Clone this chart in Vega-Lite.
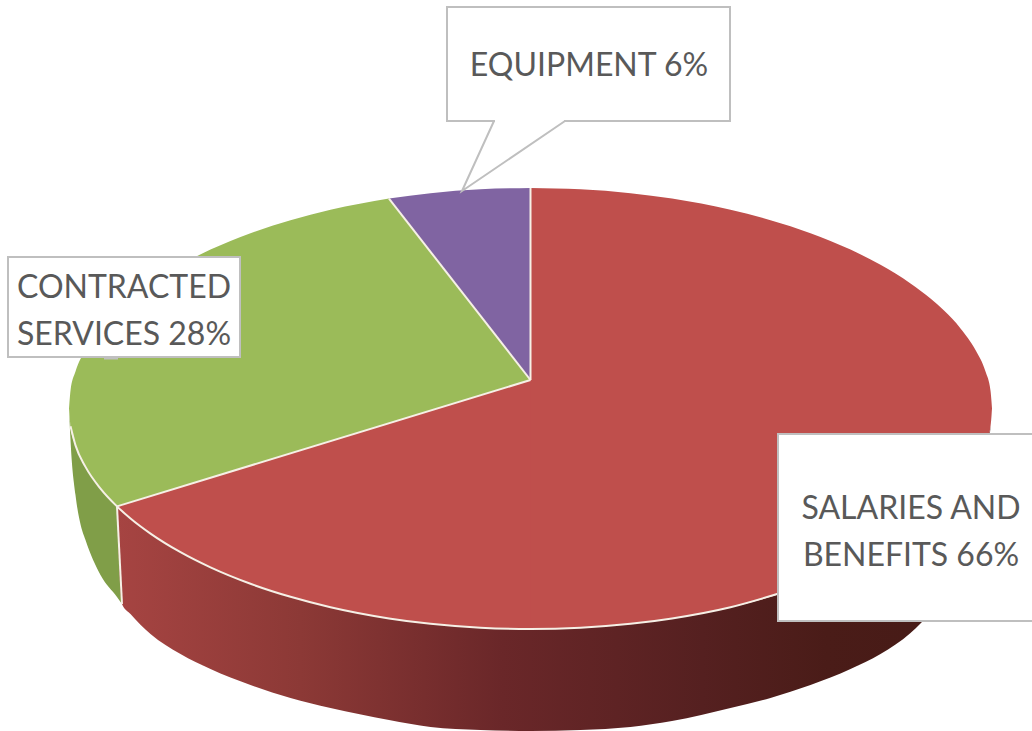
{
"$schema":"https://vega.github.io/schema/vega-lite/v6.json",
"width":1032,"height":731,"padding":0,
"autosize":{"type":"fit","contains":"padding"},
"background":"white",
"config":{"view":{"stroke":null}},
"datasets":{
"faces":[
{"slice":"EQUIPMENT","piece":"p","x":389,"y":198.6,"y2":198.6},{"slice":"EQUIPMENT","piece":"p","x":430.5,"y":193.2,"y2":251.8},{"slice":"EQUIPMENT","piece":"p","x":480.5,"y":189.3,"y2":315.9},{"slice":"EQUIPMENT","piece":"p","x":530.5,"y":188,"y2":380},
{"slice":"CONTRACTED SERVICES","piece":"g1","x":69,"y":408.5,"y2":408.5},{"slice":"CONTRACTED SERVICES","piece":"g1","x":70.5,"y":390.7,"y2":426.3},{"slice":"CONTRACTED SERVICES","piece":"g1","x":75.5,"y":371.6,"y2":445.4},{"slice":"CONTRACTED SERVICES","piece":"g1","x":85.5,"y":350.1,"y2":466.9},{"slice":"CONTRACTED SERVICES","piece":"g1","x":100.5,"y":328.4,"y2":488.6},{"slice":"CONTRACTED SERVICES","piece":"g1","x":117,"y":310.6,"y2":506.4},
{"slice":"CONTRACTED SERVICES","piece":"g2","x":117,"y":310.6,"y2":506.4},{"slice":"CONTRACTED SERVICES","piece":"g2","x":130.5,"y":298.5,"y2":502.3},{"slice":"CONTRACTED SERVICES","piece":"g2","x":150.5,"y":283.4,"y2":496.2},{"slice":"CONTRACTED SERVICES","piece":"g2","x":180.5,"y":264.8,"y2":487},{"slice":"CONTRACTED SERVICES","piece":"g2","x":210.5,"y":249.6,"y2":477.8},{"slice":"CONTRACTED SERVICES","piece":"g2","x":250.5,"y":233.2,"y2":465.6},{"slice":"CONTRACTED SERVICES","piece":"g2","x":290.5,"y":220.2,"y2":453.4},{"slice":"CONTRACTED SERVICES","piece":"g2","x":330.5,"y":209.8,"y2":441.1},{"slice":"CONTRACTED SERVICES","piece":"g2","x":389,"y":198.6,"y2":423.3},
{"slice":"CONTRACTED SERVICES","piece":"g3","x":389,"y":198.6,"y2":423.3},{"slice":"CONTRACTED SERVICES","piece":"g3","x":430.5,"y":251.8,"y2":410.6},{"slice":"CONTRACTED SERVICES","piece":"g3","x":480.5,"y":315.9,"y2":395.3},{"slice":"CONTRACTED SERVICES","piece":"g3","x":530.5,"y":380,"y2":380},
{"slice":"SALARIES AND BENEFITS","piece":"r1","x":117,"y":506.4,"y2":506.4},{"slice":"SALARIES AND BENEFITS","piece":"r1","x":130.5,"y":502.3,"y2":518.5},{"slice":"SALARIES AND BENEFITS","piece":"r1","x":150.5,"y":496.2,"y2":533.6},{"slice":"SALARIES AND BENEFITS","piece":"r1","x":180.5,"y":487,"y2":552.2},{"slice":"SALARIES AND BENEFITS","piece":"r1","x":210.5,"y":477.8,"y2":567.4},{"slice":"SALARIES AND BENEFITS","piece":"r1","x":250.5,"y":465.6,"y2":583.8},{"slice":"SALARIES AND BENEFITS","piece":"r1","x":290.5,"y":453.4,"y2":596.8},{"slice":"SALARIES AND BENEFITS","piece":"r1","x":330.5,"y":441.1,"y2":607.2},{"slice":"SALARIES AND BENEFITS","piece":"r1","x":389,"y":423.3,"y2":618.4},{"slice":"SALARIES AND BENEFITS","piece":"r1","x":430.5,"y":410.6,"y2":623.8},{"slice":"SALARIES AND BENEFITS","piece":"r1","x":480.5,"y":395.3,"y2":627.7},{"slice":"SALARIES AND BENEFITS","piece":"r1","x":531,"y":380,"y2":629},
{"slice":"SALARIES AND BENEFITS","piece":"r2","x":530.5,"y":188,"y2":629},{"slice":"SALARIES AND BENEFITS","piece":"r2","x":580.5,"y":189.3,"y2":627.7},{"slice":"SALARIES AND BENEFITS","piece":"r2","x":630.5,"y":193.2,"y2":623.8},{"slice":"SALARIES AND BENEFITS","piece":"r2","x":672,"y":198.6,"y2":618.4},{"slice":"SALARIES AND BENEFITS","piece":"r2","x":730.5,"y":209.8,"y2":607.2},{"slice":"SALARIES AND BENEFITS","piece":"r2","x":770.5,"y":220.2,"y2":596.8},{"slice":"SALARIES AND BENEFITS","piece":"r2","x":810.5,"y":233.2,"y2":583.8},{"slice":"SALARIES AND BENEFITS","piece":"r2","x":850.5,"y":249.6,"y2":567.4},{"slice":"SALARIES AND BENEFITS","piece":"r2","x":880.5,"y":264.8,"y2":552.2},{"slice":"SALARIES AND BENEFITS","piece":"r2","x":910.5,"y":283.4,"y2":533.6},{"slice":"SALARIES AND BENEFITS","piece":"r2","x":930.5,"y":298.5,"y2":518.5},{"slice":"SALARIES AND BENEFITS","piece":"r2","x":944,"y":310.6,"y2":506.4},{"slice":"SALARIES AND BENEFITS","piece":"r2","x":960.5,"y":328.4,"y2":488.6},{"slice":"SALARIES AND BENEFITS","piece":"r2","x":975.5,"y":350.1,"y2":466.9},{"slice":"SALARIES AND BENEFITS","piece":"r2","x":985.5,"y":371.6,"y2":445.4},{"slice":"SALARIES AND BENEFITS","piece":"r2","x":990.5,"y":390.7,"y2":426.3},{"slice":"SALARIES AND BENEFITS","piece":"r2","x":992,"y":408.5,"y2":408.5}
],
"greenRim":[
{"x":69,"y":408.5,"y2":408.5},{"x":70.5,"y":426.3,"y2":440},{"x":75.5,"y":445.4,"y2":495},{"x":80,"y":456.4,"y2":522},{"x":85.5,"y":466.9,"y2":540},{"x":100.5,"y":488.6,"y2":575},{"x":117,"y":506.4,"y2":597},{"x":122,"y":511.1,"y2":604}
],
"redRim":[
{"x":117,"y":506.4,"y2":506.4},{"x":122,"y":511.1,"y2":604},{"x":130.5,"y":518.5,"y2":614},{"x":150.5,"y":533.6,"y2":634},{"x":180.5,"y":552.2,"y2":654},{"x":210.5,"y":567.4,"y2":669},{"x":250.5,"y":583.8,"y2":685},{"x":290.5,"y":596.8,"y2":698},{"x":330.5,"y":607.2,"y2":708},{"x":389,"y":618.4,"y2":720},{"x":430.5,"y":623.8,"y2":727},{"x":480.5,"y":627.7,"y2":730},{"x":530.5,"y":629,"y2":731},{"x":580.5,"y":627.7,"y2":730},{"x":630.5,"y":623.8,"y2":727},{"x":672,"y":618.4,"y2":721},{"x":730.5,"y":607.2,"y2":708},{"x":770.5,"y":596.8,"y2":698},{"x":810.5,"y":583.8,"y2":685},{"x":850.5,"y":567.4,"y2":669},{"x":880.5,"y":552.2,"y2":654},{"x":910.5,"y":533.6,"y2":633},{"x":930.5,"y":518.5,"y2":613},{"x":944,"y":506.4,"y2":597},{"x":960.5,"y":488.6,"y2":575},{"x":975.5,"y":466.9,"y2":540},{"x":985.5,"y":445.4,"y2":470},{"x":990.5,"y":426.3,"y2":427},{"x":992,"y":408.5,"y2":408.5}
],
"seams":[
{"seam":"a","i":0,"x":117,"y":506.4},{"seam":"a","i":1,"x":530.5,"y":380},
{"seam":"b","i":0,"x":389,"y":198.6},{"seam":"b","i":1,"x":530.5,"y":380},
{"seam":"c","i":0,"x":530.5,"y":188},{"seam":"c","i":1,"x":530.5,"y":380},
{"seam":"d","i":0,"x":117,"y":506.4},{"seam":"d","i":1,"x":122,"y":604},
{"seam":"e","i":0,"x":70.5,"y":426.3},{"seam":"e","i":1,"x":75.5,"y":445.4},{"seam":"e","i":2,"x":85.5,"y":466.9},{"seam":"e","i":3,"x":100.5,"y":488.6},{"seam":"e","i":4,"x":117,"y":506.4},{"seam":"e","i":5,"x":130.5,"y":518.5},{"seam":"e","i":6,"x":150.5,"y":533.6},{"seam":"e","i":7,"x":180.5,"y":552.2},{"seam":"e","i":8,"x":210.5,"y":567.4},{"seam":"e","i":9,"x":250.5,"y":583.8},{"seam":"e","i":10,"x":290.5,"y":596.8},{"seam":"e","i":11,"x":330.5,"y":607.2},{"seam":"e","i":12,"x":389,"y":618.4},{"seam":"e","i":13,"x":430.5,"y":623.8},{"seam":"e","i":14,"x":480.5,"y":627.7},{"seam":"e","i":15,"x":530.5,"y":629},{"seam":"e","i":16,"x":580.5,"y":627.7},{"seam":"e","i":17,"x":630.5,"y":623.8},{"seam":"e","i":18,"x":672,"y":618.4},{"seam":"e","i":19,"x":730.5,"y":607.2},{"seam":"e","i":20,"x":790,"y":590}
],
"labels":[
{"label":"EQUIPMENT 6%","share":6,"x":447,"x2":730,"y":7,"y2":121,"cx":589,"cy":66},
{"label":"CONTRACTED\nSERVICES 28%","share":28,"x":8,"x2":240,"y":257,"y2":357,"cx":124,"cy":288},
{"label":"SALARIES AND\nBENEFITS 66%","share":66,"x":778,"x2":1040,"y":434,"y2":621,"cx":911,"cy":509}
],
"stub":[{"x":104,"x2":118,"y":358}],
"tailGap":[{"x":495,"x2":564,"y":121}],
"tail":[{"i":0,"x":494,"y":121},{"i":1,"x":462,"y":191},{"i":2,"x":565,"y":121}]
},
"layer":[
{"data":{"name":"greenRim"},"mark":{"type":"area","color":"#809E48","interpolate":"monotone"},
 "encoding":{"x":{"field":"x","type":"quantitative","axis":null,"scale":{"domain":[0,1032],"nice":false,"zero":false}},"y":{"field":"y","type":"quantitative","axis":null,"scale":{"domain":[731,0],"nice":false,"zero":false}},"y2":{"field":"y2"}}},
{"data":{"name":"redRim"},"mark":{"type":"area","interpolate":"monotone","color":{"gradient":"linear","x1":0,"x2":1,"y1":0,"y2":0,"stops":[{"offset":0,"color":"#A64442"},{"offset":0.21,"color":"#8C3936"},{"offset":0.44,"color":"#6A2729"},{"offset":0.67,"color":"#552020"},{"offset":0.81,"color":"#4A1C18"},{"offset":1,"color":"#451A16"}]}},
 "encoding":{"x":{"field":"x","type":"quantitative","axis":null},"y":{"field":"y","type":"quantitative","axis":null},"y2":{"field":"y2"}}},
{"data":{"name":"faces"},"mark":{"type":"area","interpolate":"monotone"},
 "encoding":{"x":{"field":"x","type":"quantitative","axis":null},"y":{"field":"y","type":"quantitative","axis":null},"y2":{"field":"y2"},"detail":{"field":"piece"},
  "color":{"field":"slice","type":"nominal","legend":null,"scale":{"domain":["SALARIES AND BENEFITS","CONTRACTED SERVICES","EQUIPMENT"],"range":["#BF4F4C","#9BBB59","#8064A2"]}}}},
{"data":{"name":"seams"},"mark":{"type":"line","color":"#F6F0E6","strokeWidth":2,"interpolate":"monotone"},
 "encoding":{"x":{"field":"x","type":"quantitative","axis":null},"y":{"field":"y","type":"quantitative","axis":null},"detail":{"field":"seam"},"order":{"field":"i"}}},
{"data":{"name":"stub"},"mark":{"type":"rule","color":"#BFBFBF","strokeWidth":3},
 "encoding":{"x":{"field":"x","type":"quantitative","axis":null},"x2":{"field":"x2"},"y":{"field":"y","type":"quantitative","axis":null}}},
{"data":{"name":"labels"},"mark":{"type":"rect","fill":"white","stroke":"#BFBFBF","strokeWidth":2,"clip":true},
 "encoding":{"x":{"field":"x","type":"quantitative","axis":null},"x2":{"field":"x2"},"y":{"field":"y","type":"quantitative","axis":null},"y2":{"field":"y2"}}},
{"data":{"name":"tailGap"},"mark":{"type":"rule","color":"white","strokeWidth":3},
 "encoding":{"x":{"field":"x","type":"quantitative","axis":null},"x2":{"field":"x2"},"y":{"field":"y","type":"quantitative","axis":null}}},
{"data":{"name":"tail"},"mark":{"type":"line","color":"#BFBFBF","strokeWidth":2},
 "encoding":{"x":{"field":"x","type":"quantitative","axis":null},"y":{"field":"y","type":"quantitative","axis":null},"order":{"field":"i"}}},
{"data":{"name":"labels"},"mark":{"type":"text","font":"Lato","fontSize":32,"color":"#595959","align":"center","baseline":"middle","lineBreak":"\n","lineHeight":47},
 "encoding":{"x":{"field":"cx","type":"quantitative","axis":null},"y":{"field":"cy","type":"quantitative","axis":null},"text":{"field":"label"}}}
]
}
